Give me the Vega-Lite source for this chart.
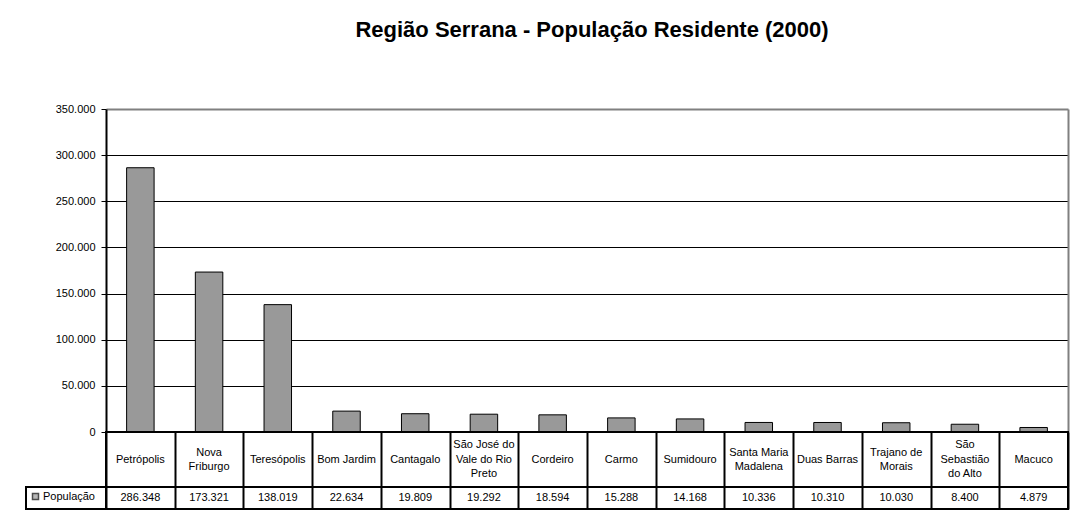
{
  "$schema": "https://vega.github.io/schema/vega-lite/v6.json",
  "background": "white",
  "padding": {"left": 25, "top": 19, "right": 6, "bottom": 0},
  "title": {
    "text": "Região Serrana - População Residente (2000)",
    "font": "Liberation Sans",
    "fontSize": 22,
    "fontWeight": "bold",
    "color": "black",
    "anchor": "middle",
    "dx": 45,
    "offset": 61
  },
  "datasets": {
    "pop": [
      {"municipio": "Petrópolis", "label": ["Petrópolis"], "pop": 286348},
      {"municipio": "Nova Friburgo", "label": ["Nova", "Friburgo"], "pop": 173321},
      {"municipio": "Teresópolis", "label": ["Teresópolis"], "pop": 138019},
      {"municipio": "Bom Jardim", "label": ["Bom Jardim"], "pop": 22634},
      {"municipio": "Cantagalo", "label": ["Cantagalo"], "pop": 19809},
      {"municipio": "São José do Vale do Rio Preto", "label": ["São José do", "Vale do Rio", "Preto"], "pop": 19292},
      {"municipio": "Cordeiro", "label": ["Cordeiro"], "pop": 18594},
      {"municipio": "Carmo", "label": ["Carmo"], "pop": 15288},
      {"municipio": "Sumidouro", "label": ["Sumidouro"], "pop": 14168},
      {"municipio": "Santa Maria Madalena", "label": ["Santa Maria", "Madalena"], "pop": 10336},
      {"municipio": "Duas Barras", "label": ["Duas Barras"], "pop": 10310},
      {"municipio": "Trajano de Morais", "label": ["Trajano de", "Morais"], "pop": 10030},
      {"municipio": "São Sebastião do Alto", "label": ["São", "Sebastião", "do Alto"], "pop": 8400},
      {"municipio": "Macuco", "label": ["Macuco"], "pop": 4879}
    ]
  },
  "columns": 2,
  "spacing": 0,
  "bounds": "flush",
  "concat": [
    {
      "width": 80,
      "height": 1,
      "view": {"stroke": null},
      "data": {"values": []},
      "mark": "text"
    },
    {
      "width": 962,
      "height": 323,
      "view": {"stroke": null},
      "data": {"name": "pop"},
      "encoding": {
        "x": {
          "field": "municipio",
          "type": "nominal",
          "sort": null,
          "scale": {"paddingInner": 0.6, "paddingOuter": 0.3},
          "axis": null
        }
      },
      "layer": [
        {
          "mark": {"type": "bar", "fill": "#999999", "stroke": "black", "strokeWidth": 1},
          "encoding": {
            "y": {
              "field": "pop",
              "type": "quantitative",
              "scale": {"domain": [0, 350000], "nice": false},
              "axis": {
                "values": [0, 50000, 100000, 150000, 200000, 250000, 300000, 350000],
                "format": ",d",
                "title": null,
                "labelFont": "Liberation Sans",
                "labelFontSize": 11,
                "labelColor": "black",
                "labelPadding": 6,
                "tickColor": "black",
                "tickSize": 5,
                "tickWidth": 1,
                "domainColor": "black",
                "domainWidth": 2,
                "grid": true,
                "gridColor": {"condition": {"test": "datum.value >= 350000", "value": "#808080"}, "value": "black"},
                "gridWidth": {"condition": {"test": "datum.value >= 350000", "value": 2}, "value": 1}
              }
            }
          }
        },
        {
          "mark": {"type": "rule", "strokeOpacity": 0},
          "encoding": {
            "y": {
              "datum": 0,
              "type": "quantitative",
              "axis": {
                "orient": "right",
                "labels": false,
                "ticks": false,
                "grid": false,
                "title": null,
                "domainColor": "#808080",
                "domainWidth": 2
              }
            }
          }
        }
      ],
      "resolve": {"axis": {"y": "independent"}}
    },
    {
      "width": 80,
      "height": 1,
      "view": {"stroke": null},
      "data": {"values": []},
      "mark": "text"
    },
    {
      "width": 962,
      "height": 55,
      "view": {"stroke": "black", "strokeWidth": 2},
      "data": {"name": "pop"},
      "encoding": {
        "x": {
          "field": "municipio",
          "type": "nominal",
          "sort": null,
          "scale": {
            "domain": ["Petrópolis", "Nova Friburgo", "Teresópolis", "Bom Jardim", "Cantagalo", "São José do Vale do Rio Preto", "Cordeiro", "Carmo", "Sumidouro", "Santa Maria Madalena", "Duas Barras", "Trajano de Morais", "São Sebastião do Alto", "Macuco"],
            "paddingInner": 0,
            "paddingOuter": 0
          },
          "axis": {"labels": false, "ticks": false, "domain": false, "title": null, "grid": true, "gridColor": "black", "gridWidth": 2, "tickBand": "extent"}
        },
        "text": {"field": "label", "type": "nominal"}
      },
      "layer": [
        {
          "transform": [{"filter": "length(datum.label) == 1"}],
          "mark": {"type": "text", "font": "Liberation Sans", "fontSize": 11, "lineHeight": 14.5, "color": "black", "baseline": "middle", "dy": 0}
        },
        {
          "transform": [{"filter": "length(datum.label) == 2"}],
          "mark": {"type": "text", "font": "Liberation Sans", "fontSize": 11, "lineHeight": 14.5, "color": "black", "baseline": "middle", "dy": -7}
        },
        {
          "transform": [{"filter": "length(datum.label) == 3"}],
          "mark": {"type": "text", "font": "Liberation Sans", "fontSize": 11, "lineHeight": 14.5, "color": "black", "baseline": "middle", "dy": -14.5}
        }
      ]
    },
    {
      "width": 80,
      "height": 22,
      "view": {"stroke": "black", "strokeWidth": 2},
      "data": {"values": []},
      "mark": {"type": "square"},
      "encoding": {
        "fill": {
          "datum": "População",
          "type": "nominal",
          "scale": {"range": ["#999999"]},
          "legend": {
            "orient": "top-left",
            "offset": 4,
            "padding": 0,
            "title": null,
            "symbolType": "square",
            "symbolSize": 36,
            "symbolStrokeColor": "black",
            "symbolStrokeWidth": 1.5,
            "labelFont": "Liberation Sans",
            "labelFontSize": 11,
            "labelColor": "black",
            "labelOffset": 2
          }
        }
      }
    },
    {
      "width": 962,
      "height": 22,
      "view": {"stroke": "black", "strokeWidth": 2},
      "data": {"name": "pop"},
      "mark": {"type": "text", "font": "Liberation Sans", "fontSize": 11, "color": "black"},
      "encoding": {
        "x": {
          "field": "municipio",
          "type": "nominal",
          "sort": null,
          "scale": {"paddingInner": 0, "paddingOuter": 0},
          "axis": {"labels": false, "ticks": false, "domain": false, "title": null, "grid": true, "gridColor": "black", "gridWidth": 2, "tickBand": "extent"}
        },
        "text": {"field": "pop", "type": "quantitative", "format": ",d"}
      }
    }
  ],
  "resolve": {"scale": {"fill": "independent"}, "legend": {"fill": "independent"}},
  "config": {
    "font": "Liberation Sans",
    "locale": {"number": {"decimal": ",", "thousands": ".", "grouping": [3], "currency": ["R$", ""]}}
  }
}
